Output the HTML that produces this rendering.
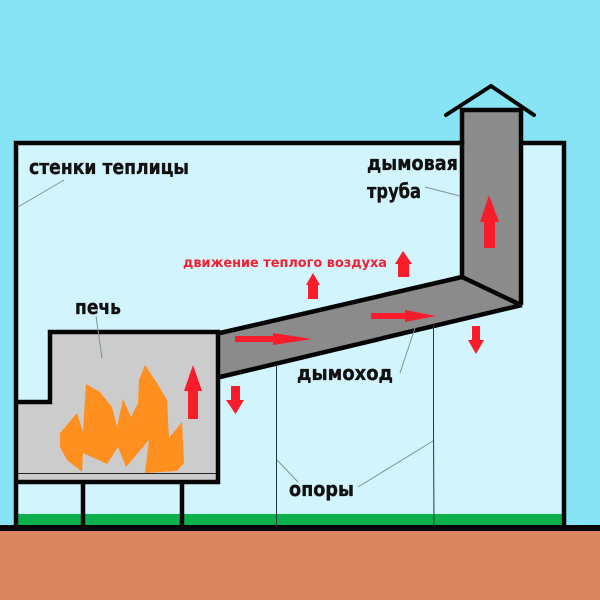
<!DOCTYPE html>
<html><head><meta charset="utf-8"><style>
html,body{margin:0;padding:0;background:#86e4f5}
svg{display:block}
text{font-family:"DejaVu Sans","Liberation Sans",sans-serif;font-weight:bold;fill:#111;stroke:#111;stroke-width:.35}
</style></head><body>
<svg width="600" height="600" viewBox="0 0 600 600" xmlns="http://www.w3.org/2000/svg">
<rect width="600" height="600" fill="#86e4f5"/>
<rect x="16" y="143" width="548" height="385" fill="#d2f4fc"/>
<rect x="18" y="514" width="544" height="12" fill="#0cb14c"/>
<rect x="0" y="531" width="600" height="69" fill="#dc8661"/>
<polygon points="220,333 462,277 521,305 220,377" fill="#8b8b8b"/>
<rect x="462" y="110" width="59" height="195" fill="#8b8b8b"/>
<polygon points="462,277 521,305 462,305" fill="#8b8b8b"/>
<polygon points="50,332 218,332 218,482 16,482 16,402 50,402" fill="#cccccc"/>
<polygon fill="#ff901f" points="60,433 77,413 83,432 86,384 100,392 112,407 117,427 123,399 131,417 138,403 139,380 145,365 157,383 167,400 169,438 182,422 184,463 177,471 145,473 149,440 126,467 118,447 107,464 83,453 82,472 67,460 60,447"/>
<g fill="none" stroke="#050505" stroke-width="4.5">
<polyline points="16,528 16,143 462,143" stroke-linecap="square"/>
<polyline points="522,143 564,143 564,528"/>
<polyline points="446,115 491,86 534,115" stroke-linecap="round" stroke-width="4"/>
<polyline points="462,277 462,110 521,110 521,305"/>
<line x1="220" y1="333" x2="462" y2="277"/>
<line x1="220" y1="377" x2="522" y2="305"/>
<line x1="462" y1="277" x2="521" y2="305"/>
<polyline points="16,402 50,402 50,332 218,332 218,482 16,482"/>
<line x1="83" y1="482" x2="83" y2="528"/>
<line x1="182" y1="482" x2="182" y2="528"/>
</g>
<rect x="0" y="525" width="600" height="6" fill="#050505"/>
<g stroke="#1d3a40" stroke-width="1" fill="none">
<line x1="18" y1="473.5" x2="216" y2="473.5" stroke="#222"/>
<line x1="276.5" y1="365" x2="276.5" y2="527"/>
<polyline points="433.5,325 433.5,427 434,527"/>
</g>
<g stroke="#7d959b" stroke-width="1" fill="none">
<line x1="18" y1="207" x2="64" y2="180"/>
<line x1="96" y1="316" x2="102" y2="358"/>
<line x1="425" y1="187" x2="460" y2="196"/>
<line x1="400" y1="373" x2="415" y2="328"/>
<line x1="277" y1="460" x2="298" y2="482"/>
<line x1="358" y1="487" x2="433" y2="441"/>
</g>
<g fill="#f91c2a">
<polygon points="193,365 202,391 198,391 198,419 188,419 188,391 184,391"/>
<polygon points="231,386 240,386 240,400 244,400 235.500,414 226,400 231,400"/>
<polygon points="235,336 273,336 273,333 312,339 273,345 273,342 235,342"/>
<polygon points="371,313 405,313 405,310 436,316 405,322 405,319 371,319"/>
<polygon points="489,195 499,222 495,222 495,248 484,248 484,222 480,222"/>
<polygon points="403,251 412,264 409,264 409,277 398,277 398,264 395,264"/>
<polygon points="313,273 320,285 318,285 318,299 308,299 308,285 306,285"/>
<polygon points="472,326 480,326 480,340 484,340 476,354 468,340 472,340"/>
</g>
<text x="29" y="174" font-size="20.500" textLength="160" lengthAdjust="spacingAndGlyphs">стенки теплицы</text>
<text x="75" y="314" font-size="20.500" textLength="46" lengthAdjust="spacingAndGlyphs">печь</text>
<text x="367" y="170" font-size="20.500" textLength="91" lengthAdjust="spacingAndGlyphs">дымовая</text>
<text x="367" y="198" font-size="20.500" textLength="54" lengthAdjust="spacingAndGlyphs">труба</text>
<text x="297" y="380" font-size="20.500" textLength="96" lengthAdjust="spacingAndGlyphs">дымоход</text>
<text x="289" y="496" font-size="20.500" textLength="65" lengthAdjust="spacingAndGlyphs">опоры</text>
<text x="183" y="267" font-size="13" textLength="204" lengthAdjust="spacingAndGlyphs" style="fill:#ee2233;stroke:none">движение теплого воздуха</text>
</svg>
</body></html>
